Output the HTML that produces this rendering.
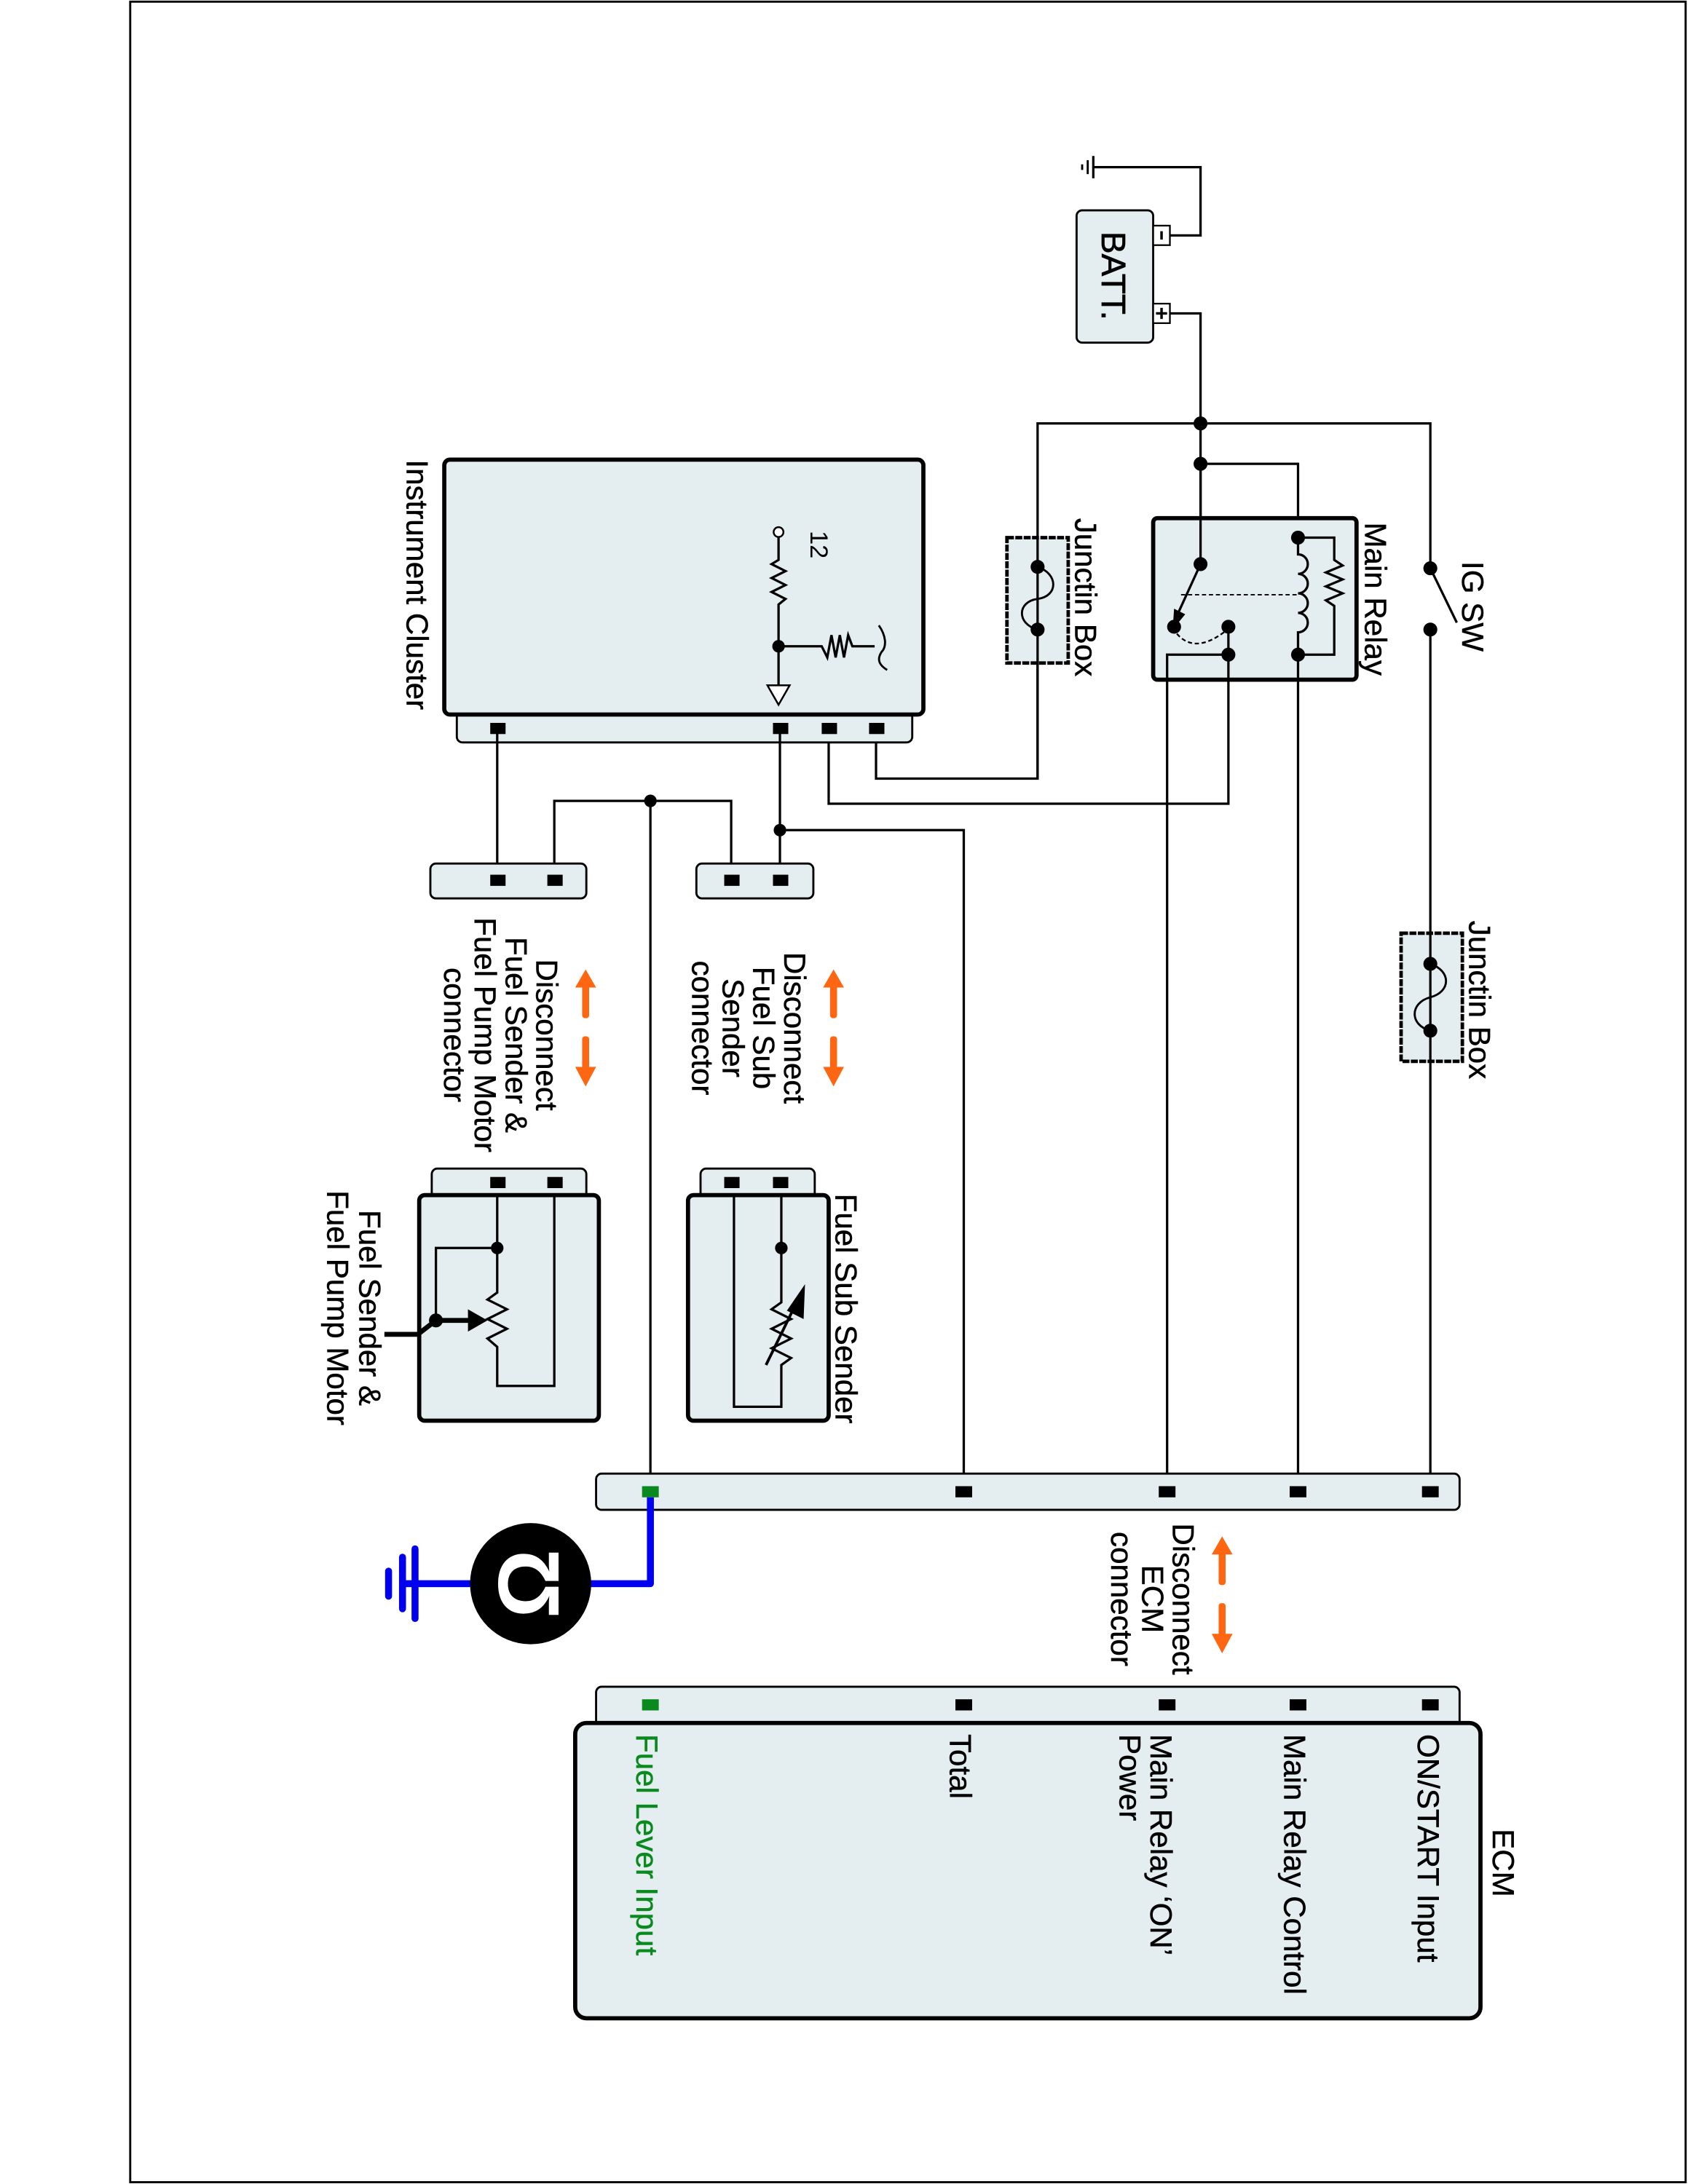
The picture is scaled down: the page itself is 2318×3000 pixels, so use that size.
<!DOCTYPE html>
<html><head><meta charset="utf-8"><style>html,body{margin:0;padding:0;background:#fff}svg{display:block}</style></head>
<body>
<svg width="2318" height="3000" viewBox="0 0 1212 1568" preserveAspectRatio="none" xmlns="http://www.w3.org/2000/svg" font-family="Liberation Sans, Arial, sans-serif">
<defs>
<style>
.w{stroke:#000;stroke-width:1.7;fill:none}
.box{fill:#e4edf0;stroke:#000;stroke-width:3}
.strip{fill:#e4edf0;stroke:#000;stroke-width:1.5}
.t{font-size:22px;fill:#000;stroke:#000;stroke-width:0.25}
.or{fill:#ff6612}
</style>
</defs>
<rect x="0" y="0" width="1212" height="1568" fill="#fff"/>
<rect x="93.5" y="1.2" width="1116.8" height="1565.5" fill="none" stroke="#000" stroke-width="1.5"/>

<rect x="773" y="151" width="55" height="95" rx="4" class="strip"/>
<rect x="828" y="162" width="12" height="14" fill="#fff" stroke="#000" stroke-width="1.2"/>
<rect x="828" y="218" width="12" height="14" fill="#fff" stroke="#000" stroke-width="1.2"/>
<line x1="831" y1="169" x2="837" y2="169" stroke="#000" stroke-width="1.8" transform="rotate(90 834 169)"/>
<line x1="830" y1="225" x2="838" y2="225" stroke="#000" stroke-width="1.8"/>
<line x1="834" y1="221" x2="834" y2="229" stroke="#000" stroke-width="1.8"/>
<text transform="translate(791,198) rotate(90)" font-size="24" text-anchor="middle" stroke="#000" stroke-width="0.4">BATT.</text>
<polyline class="w" points="840,169 862,169 862,120 785,120"/>
<line x1="785" y1="112" x2="785" y2="128" stroke="#000" stroke-width="1.7"/>
<line x1="781" y1="115" x2="781" y2="125" stroke="#000" stroke-width="1.5"/>
<line x1="777" y1="118" x2="777" y2="122" stroke="#000" stroke-width="1.5"/>
<polyline class="w" points="840,225 862,225 862,405"/>

<polyline class="w" points="745,559 745,304 1027,304 1027,1071"/>
<circle cx="862" cy="304" r="5"/>
<circle cx="862" cy="333" r="5"/>
<polyline class="w" points="862,333 932,333 932,386"/>

<rect x="828" y="372" width="146" height="116" rx="3" class="box"/>
<line class="w" x1="862" y1="333" x2="862" y2="405"/>
<circle cx="862" cy="405" r="5"/>
<line class="w" x1="862" y1="405" x2="846" y2="440"/>
<polygon points="842,452 843,437 851,441"/>
<circle cx="843" cy="450" r="5"/>
<circle cx="882" cy="450" r="5"/>
<circle cx="882" cy="470" r="5"/>
<line x1="848" y1="427" x2="932" y2="427" stroke="#000" stroke-width="1" stroke-dasharray="3,2"/>
<path d="M845,455 Q858,470 880,453" fill="none" stroke="#000" stroke-width="1.2" stroke-dasharray="3,2"/>
<circle cx="932" cy="386" r="5"/>
<circle cx="932" cy="470" r="5"/>
<path class="w" d="M932,386 L932,398 a7,7 0 0 1 0,14 a7,7 0 0 1 0,14 a7,7 0 0 1 0,14 a7,7 0 0 1 0,14 L932,470"/>
<polyline class="w" points="932,386 958,386 958,402 964,406 952,411 964,416 952,421 964,426 952,431 958,435 958,470 932,470"/>
<text class="t" transform="translate(980,375) rotate(90)">Main Relay</text>
<polyline class="w" points="882,450 882,577 595,577 595,523"/>
<polyline class="w" points="882,470 838,470 838,1071"/>
<line class="w" x1="932" y1="470" x2="932" y2="1071"/>

<rect x="1020" y="412" width="14" height="36" fill="#fff"/>
<line class="w" x1="1028" y1="410" x2="1046" y2="447"/>
<circle cx="1027" cy="408" r="5"/>
<circle cx="1027" cy="452" r="5"/>
<text class="t" transform="translate(1050,403) rotate(90)">IG SW</text>

<rect x="723" y="386" width="44" height="90" fill="#e4edf0" stroke="#000" stroke-width="2.5" stroke-dasharray="5,1"/>
<line class="w" x1="745" y1="386" x2="745" y2="476"/>
<path d="M745,407 C760,412 760,428 745,430 C730,432 730,448 745,452" fill="none" stroke="#000" stroke-width="1.5"/>
<circle cx="745" cy="407" r="5"/>
<circle cx="745" cy="452" r="5"/>
<text class="t" transform="translate(772,372) rotate(90)">Junctin Box</text>
<polyline class="w" points="745,476 745,559 629,559 629,523"/>

<rect x="1006" y="670" width="44" height="92" fill="#e4edf0" stroke="#000" stroke-width="2.5" stroke-dasharray="5,1"/>
<line class="w" x1="1027" y1="670" x2="1027" y2="762"/>
<path d="M1027,692 C1042,697 1042,712 1027,716 C1012,720 1012,736 1027,740" fill="none" stroke="#000" stroke-width="1.5"/>
<circle cx="1027" cy="692" r="5"/>
<circle cx="1027" cy="740" r="5"/>
<text class="t" transform="translate(1055,661) rotate(90)">Junctin Box</text>

<rect x="328" y="505" width="327" height="28" rx="4" class="strip"/>
<rect x="319" y="330" width="344" height="183" rx="4" class="box"/>
<rect x="352" y="519" width="11" height="8"/>
<rect x="555" y="519" width="11" height="8"/>
<rect x="590" y="519" width="11" height="8"/>
<rect x="624" y="519" width="11" height="8"/>
<text class="t" transform="translate(292,330) rotate(90)">Instrument Cluster</text>
<text transform="translate(582,381) rotate(90)" font-size="18">12</text>
<circle cx="559" cy="382" r="3.5" fill="#fff" stroke="#000" stroke-width="1.3"/>
<polyline class="w" points="559,386 559,402 554,405 564,410 554,415 564,420 554,425 564,430 559,434 559,492"/>
<circle cx="559" cy="464" r="4.5"/>
<polygon points="551,492 567,492 559,506" fill="#fff" stroke="#000" stroke-width="1.3"/>
<polyline class="w" points="559,464 590,464 594,472 597,456 600,472 603,456 606,472 609,456 612,464 628,464"/>
<path d="M631,449 C636,456 637,464 633,468 C629,474 632,478 637,481" fill="none" stroke="#000" stroke-width="1.5"/>
<polyline class="w" points="560,523 560,632"/>
<circle cx="560" cy="596" r="4.5"/>
<polyline class="w" points="560,596 692,596 692,1071"/>
<line class="w" x1="357" y1="523" x2="357" y2="632"/>
<polyline class="w" points="398,632 398,575 525,575 525,632"/>
<circle cx="467" cy="575" r="4.5"/>
<line class="w" x1="467" y1="575" x2="467" y2="1071"/>

<rect x="500" y="620" width="84" height="25" rx="4" class="strip"/>
<rect x="520" y="628" width="11" height="8"/>
<rect x="555" y="628" width="11" height="8"/>
<rect x="309" y="620" width="112" height="25" rx="4" class="strip"/>
<rect x="352" y="628" width="11" height="8"/>
<rect x="393" y="628" width="11" height="8"/>

<g class="or">
<rect x="596" y="705" width="5" height="26" rx="2"/><polygon points="591,709 606,709 598.5,696"/>
<rect x="596" y="744" width="5" height="26" rx="2"/><polygon points="591,766 606,766 598.5,780"/>
<rect x="418" y="705" width="5" height="26" rx="2"/><polygon points="413,709 428,709 420.5,696"/>
<rect x="418" y="744" width="5" height="26" rx="2"/><polygon points="413,766 428,766 420.5,780"/>
<rect x="875" y="1113" width="5" height="25" rx="2"/><polygon points="870,1116 885,1116 877.5,1103"/>
<rect x="875" y="1151" width="5" height="26" rx="2"/><polygon points="870,1173 885,1173 877.5,1187"/>
</g>
<g class="t" text-anchor="middle">
<text transform="translate(563,738) rotate(90)">Disconnect</text>
<text transform="translate(541,738) rotate(90)">Fuel Sub</text>
<text transform="translate(519,738) rotate(90)">Sender</text>
<text transform="translate(497,738) rotate(90)">connector</text>
<text transform="translate(385,743) rotate(90)">Disconnect</text>
<text transform="translate(363,743) rotate(90)">Fuel Sender &amp;</text>
<text transform="translate(341,743) rotate(90)">Fuel Pump Motor</text>
<text transform="translate(319,743) rotate(90)">connector</text>
<text transform="translate(842,1148) rotate(90)">Disconnect</text>
<text transform="translate(820,1148) rotate(90)">ECM</text>
<text transform="translate(798,1148) rotate(90)">connector</text>
<text transform="translate(258,939) rotate(90)">Fuel Sender &amp;</text>
<text transform="translate(235,939) rotate(90)">Fuel Pump Motor</text>
</g>

<rect x="503" y="839" width="82" height="24" rx="4" class="strip"/>
<rect x="494" y="858" width="101" height="162" rx="4" class="box"/>
<rect x="520" y="845" width="11" height="8"/>
<rect x="555" y="845" width="11" height="8"/>
<polyline class="w" points="561,858 561,935 554,940 568,947 554,954 568,961 554,968 568,975 561,980 561,1010 527,1010 527,858"/>
<circle cx="561" cy="896" r="4.5"/>
<line x1="550" y1="980" x2="572" y2="935" stroke="#000" stroke-width="2"/>
<polygon points="578,922 577,947 565,941"/>
<text class="t" transform="translate(600,857) rotate(90)">Fuel Sub Sender</text>

<rect x="310" y="839" width="111" height="24" rx="4" class="strip"/>
<rect x="301" y="858" width="129" height="162" rx="4" class="box"/>
<rect x="352" y="845" width="11" height="8"/>
<rect x="393" y="845" width="11" height="8"/>
<polyline class="w" points="357,858 357,928 350,933 364,940 350,947 364,954 350,961 357,967 357,995 398,995 398,858"/>
<circle cx="357" cy="896" r="4.5"/>
<polyline class="w" points="357,896 313,896 313,948"/>
<circle cx="313" cy="948" r="5"/>
<line x1="313" y1="948" x2="337" y2="948" stroke="#000" stroke-width="3.5"/>
<polygon points="336,940 336,956 350,948"/>
<polyline points="313,948 300,958 276,958" fill="none" stroke="#000" stroke-width="3.5"/>

<rect x="428" y="1058" width="620" height="26" rx="4" class="strip"/>
<rect x="461" y="1067" width="12" height="8" fill="#0a8a1e"/>
<rect x="686" y="1067" width="12" height="8"/>
<rect x="832" y="1067" width="12" height="8"/>
<rect x="926" y="1067" width="12" height="8"/>
<rect x="1021" y="1067" width="12" height="8"/>

<polyline points="467,1075 467,1137 424,1137" fill="none" stroke="#0000ee" stroke-width="5" stroke-linejoin="round"/>
<line x1="338" y1="1137" x2="290" y2="1137" stroke="#0000ee" stroke-width="5"/>
<line x1="298" y1="1112" x2="298" y2="1162" stroke="#0000ee" stroke-width="5" stroke-linecap="round"/>
<line x1="289" y1="1118" x2="289" y2="1155" stroke="#0000ee" stroke-width="5" stroke-linecap="round"/>
<line x1="279" y1="1128" x2="279" y2="1146" stroke="#0000ee" stroke-width="5" stroke-linecap="round"/>
<circle cx="381" cy="1137" r="43.5" fill="#000"/>
<text transform="translate(401,1137) rotate(-90)" text-anchor="middle" font-size="62" font-weight="bold" fill="#fff">Ω</text>

<rect x="428" y="1211" width="620" height="34" rx="4" class="strip"/>
<rect x="413" y="1237" width="650" height="212" rx="8" class="box"/>
<rect x="461" y="1220" width="12" height="8" fill="#0a8a1e"/>
<rect x="686" y="1220" width="12" height="8"/>
<rect x="832" y="1220" width="12" height="8"/>
<rect x="926" y="1220" width="12" height="8"/>
<rect x="1021" y="1220" width="12" height="8"/>
<text class="t" transform="translate(1072,1313) rotate(90)">ECM</text>
<text class="t" transform="translate(1018,1245) rotate(90)">ON/START Input</text>
<text class="t" transform="translate(922,1245) rotate(90)">Main Relay Control</text>
<text class="t" transform="translate(826,1245) rotate(90)">Main Relay ‘ON’</text>
<text class="t" transform="translate(804,1245) rotate(90)">Power</text>
<text class="t" transform="translate(682,1245) rotate(90)">Total</text>
<text class="t" transform="translate(457,1245) rotate(90)" style="fill:#0a8a1e;stroke:#0a8a1e">Fuel Lever Input</text>
</svg>
</body></html>
